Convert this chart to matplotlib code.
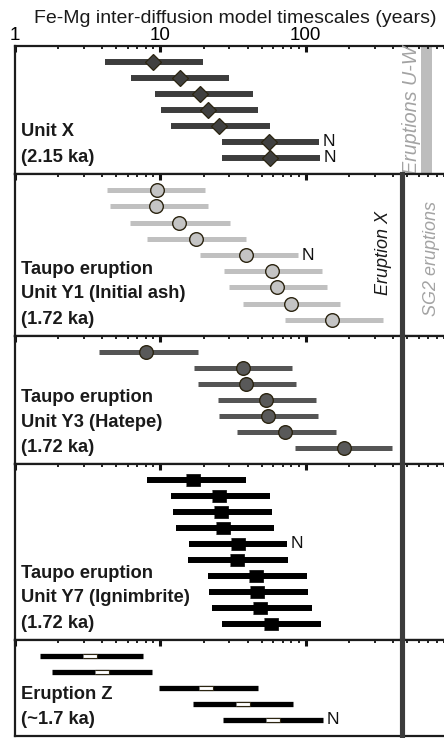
import matplotlib
matplotlib.use("Agg")
import matplotlib.pyplot as plt
from matplotlib.ticker import LogLocator, FuncFormatter, NullFormatter

plt.rcParams["font.family"] = ["Liberation Sans", "DejaVu Sans"]

# Fe-Mg inter-diffusion timescales (years): best estimate and range per crystal

# Unit X (2.15 ka)
unit_x_mid = [9.0, 13.7, 18.7, 21.5, 25.6, 55.9, 57.2]
unit_x_lo = [4.2, 6.3, 9.2, 10.1, 11.9, 26.5, 26.5]
unit_x_hi = [19.9, 30.0, 43.4, 47.3, 56.6, 124.8, 125.4]
unit_x_n = [6, 7]

# Taupo eruption, Unit Y1 (Initial ash)
y1_mid = [9.5, 9.4, 13.5, 17.7, 39.1, 59.0, 63.5, 78.9, 151.7]
y1_lo = [4.3, 4.5, 6.2, 8.2, 18.7, 27.4, 29.7, 36.9, 72.1]
y1_hi = [20.5, 21.3, 30.5, 39.1, 88.5, 129.4, 141.0, 174.0, 342.0]
y1_n = [5]

# Taupo eruption, Unit Y3 (Hatepe)
y3_mid = [8.0, 36.9, 39.1, 53.7, 55.4, 72.5, 182.5]
y3_lo = [3.8, 17.1, 18.3, 24.9, 25.6, 33.7, 85.0]
y3_hi = [18.3, 81.0, 86.3, 118.5, 121.5, 160.8, 396.0]
y3_n = []

# Taupo eruption, Unit Y7 (Ignimbrite)
y7_mid = [16.8, 25.6, 26.3, 27.3, 34.1, 33.6, 45.8, 46.6, 48.8, 57.5]
y7_lo = [8.2, 11.9, 12.3, 12.8, 15.7, 15.6, 21.4, 21.6, 22.8, 26.8]
y7_hi = [39.1, 57.2, 59.0, 61.2, 74.4, 75.5, 102.7, 103.7, 110.0, 128.8]
y7_n = [5]

# Eruption Z (~1.7 ka)
z_mid = [3.3, 4.0, 20.8, 37.1, 59.6]
z_lo = [1.5, 1.8, 9.9, 16.8, 27.3]
z_hi = [7.6, 8.8, 47.3, 81.8, 131.5]
z_n = [5]

panel_labels = [
    ["Unit X", "(2.15 ka)"],
    ["Taupo eruption", "Unit Y1 (Initial ash)", "(1.72 ka)"],
    ["Taupo eruption", "Unit Y3 (Hatepe)", "(1.72 ka)"],
    ["Taupo eruption", "Unit Y7 (Ignimbrite)", "(1.72 ka)"],
    ["Eruption Z", "(~1.7 ka)"],
]

x_title = "Fe-Mg inter-diffusion model timescales (years)"

# eruption markers on the time axis (years)
sg2_line = 458
uw_band = (622, 740)

EDGE = "#2b2410"
RECT = [(-1, -0.8), (1, -0.8), (1, 0.8), (-1, 0.8)]
SLIT = [(-1, -0.28), (1, -0.28), (1, 0.28), (-1, 0.28)]


def style_axis(ax, n_rows, show_labels):
    ax.set_xscale("log")
    ax.set_xlim(1, 1000)
    ax.set_ylim(n_rows + 1, 0)
    ax.set_yticks([])

    ax.xaxis.set_major_locator(LogLocator(base=10))
    ax.xaxis.set_minor_locator(LogLocator(base=10, subs=range(2, 10)))
    ax.xaxis.set_minor_formatter(NullFormatter())
    ax.xaxis.set_major_formatter(
        FuncFormatter(lambda v, p: f"{v:g}" if v < 1000 else "")
    )

    ax.tick_params(axis="x", which="both", direction="in",
                   top=True, bottom=False,
                   labelbottom=False, labeltop=show_labels,
                   color="#111111")
    ax.tick_params(axis="x", which="major", length=4.5, width=2.2,
                   pad=1.5, labelsize=13.5)
    ax.tick_params(axis="x", which="minor", length=2.5, width=1.3)

    for s in ax.spines.values():
        s.set_linewidth(1.6)
        s.set_color("#1c1c1c")


def draw_rows(ax, mid, lo, hi, n_rows, bar_color, bar_lw, marker_kw):
    rows = list(range(1, len(mid) + 1))

    ax.hlines(rows, lo, hi, colors=bar_color, linewidth=bar_lw, zorder=2)
    ax.plot(mid, rows, linestyle="none", zorder=3, **marker_kw)

    for r in n_rows:
        ax.annotate("N", xy=(hi[r - 1], r), xytext=(2.5, 0),
                    textcoords="offset points", ha="left", va="center",
                    fontsize=12.5, color="#111111")


def add_label(ax, lines):
    for i, line in enumerate(reversed(lines)):
        ax.annotate(line, xy=(0, 0), xycoords="axes fraction",
                    xytext=(6.5, 12.5 + 25 * i), textcoords="offset pixels",
                    ha="left", va="baseline",
                    fontsize=13.2, fontweight="bold", color="#1a1a1a")


def main():
    fig = plt.figure(figsize=(4.44, 7.38), dpi=100)

    gs = fig.add_gridspec(
        5, 1,
        left=14.5 / 444, right=451 / 444,
        top=1 - 46 / 738, bottom=2 / 738,
        height_ratios=[128, 162, 128, 176, 96],
        hspace=0,
    )
    axes = [fig.add_subplot(gs[i]) for i in range(5)]

    # Unit X: dark diamonds
    draw_rows(axes[0], unit_x_mid, unit_x_lo, unit_x_hi, unit_x_n,
              "#3d3d3d", 4.3,
              dict(marker="D", markersize=8.6, markerfacecolor="#404040",
                   markeredgecolor=EDGE, markeredgewidth=0.9))

    # Y1: light grey circles
    draw_rows(axes[1], y1_mid, y1_lo, y1_hi, y1_n,
              "#c0c0c0", 3.6,
              dict(marker="o", markersize=9.8, markerfacecolor="#c4c4c4",
                   markeredgecolor=EDGE, markeredgewidth=1.0))

    # Y3: dark grey circles
    draw_rows(axes[2], y3_mid, y3_lo, y3_hi, y3_n,
              "#555555", 3.6,
              dict(marker="o", markersize=9.8, markerfacecolor="#595959",
                   markeredgecolor=EDGE, markeredgewidth=1.0))

    # Y7: black squares
    draw_rows(axes[3], y7_mid, y7_lo, y7_hi, y7_n,
              "#000000", 4.3,
              dict(marker=RECT, markersize=10.2, markerfacecolor="#000000",
                   markeredgecolor="#000000", markeredgewidth=0.5))

    # Eruption Z: open slits on black bars
    draw_rows(axes[4], z_mid, z_lo, z_hi, z_n,
              "#000000", 3.8,
              dict(marker=SLIT, markersize=10, markerfacecolor="white",
                   markeredgecolor=EDGE, markeredgewidth=0.8))

    n_rows = [len(unit_x_mid), 9, len(y3_mid), len(y7_mid), len(z_mid)]
    for i, ax in enumerate(axes):
        style_axis(ax, n_rows[i], show_labels=(i == 0))
        add_label(ax, panel_labels[i])

    # ages of the older eruptions
    axes[0].axvspan(*uw_band, color="#bdbdbd", lw=0, zorder=1)
    axes[0].text(531, 0.5, "Eruptions U-W",
                 transform=axes[0].get_xaxis_transform(),
                 rotation=90, ha="center", va="center",
                 fontsize=14.2, fontstyle="italic", color="#a3a3a3")

    for ax in axes[1:]:
        ax.axvline(sg2_line, color="#3c3c3c", lw=3.7, zorder=4, clip_on=False)

    axes[1].text(341, 4.85, "Eruption X", rotation=90, ha="center", va="center",
                 fontsize=13, fontstyle="italic", color="#1a1a1a")
    axes[1].text(729, 5.2, "SG2 eruptions", rotation=90, ha="center", va="center",
                 fontsize=13, fontstyle="italic", color="#a3a3a3")

    fig.text(235 / 444, 1 - 23 / 738, x_title, ha="center", va="baseline",
             fontsize=14, color="#1a1a1a")

    fig.savefig("out.png", dpi=100)


if __name__ == "__main__":
    main()
